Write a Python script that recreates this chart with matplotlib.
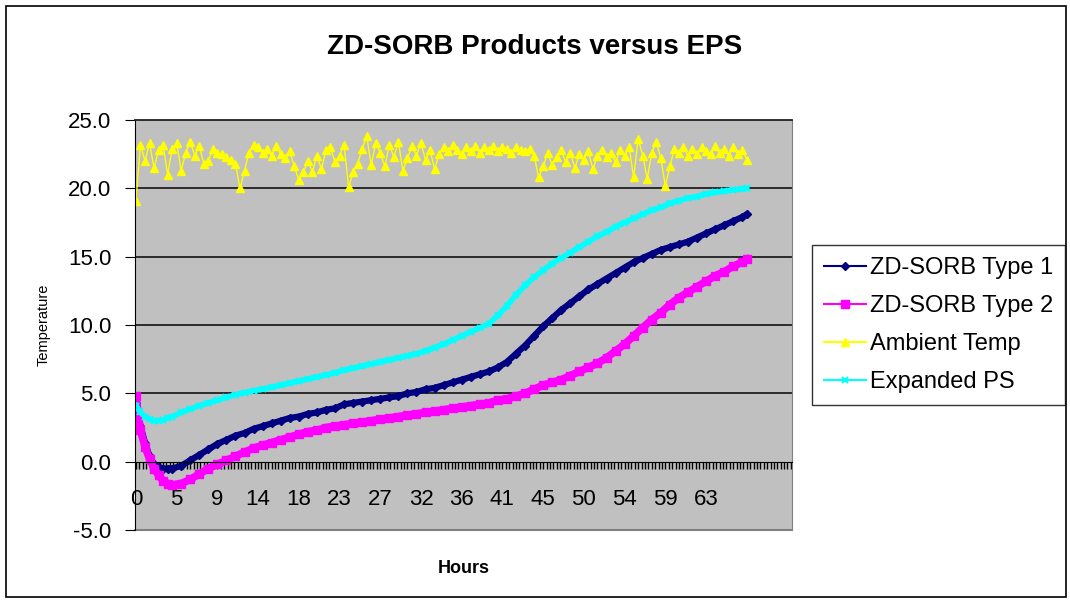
import numpy as np
import matplotlib
matplotlib.use("Agg")
import matplotlib.pyplot as plt
from matplotlib.patches import Rectangle

plt.rcParams["font.family"] = ["Liberation Sans", "DejaVu Sans"]

# ---- data ----
hours = [0, 0.5, 1, 1.5, 2, 2.5, 3, 3.5, 4, 5, 6, 7, 8, 9, 10, 11, 12, 13, 14, 15,
         16, 17, 18, 19, 20, 21, 22, 23, 24, 25, 26, 27, 28, 29, 30, 31, 32, 33, 34, 35,
         36, 37, 38, 39, 40, 41, 42, 43, 44, 45, 46, 47, 48, 49, 50, 51, 52, 53, 54, 55,
         56, 57, 58, 59, 60, 61, 62, 63, 64, 65, 66, 67, 67.5]

type1 = [4.3, 2.6, 1.4, 0.4, -0.2, -0.4, -0.5, -0.5, -0.5, -0.3, 0.1, 0.5, 0.9, 1.3, 1.6, 1.9, 2.1, 2.4, 2.6, 2.8,
         3.0, 3.2, 3.3, 3.5, 3.6, 3.8, 3.9, 4.2, 4.3, 4.4, 4.5, 4.6, 4.7, 4.8, 5.0, 5.1, 5.3, 5.4, 5.6, 5.8,
         6.0, 6.2, 6.4, 6.6, 6.9, 7.3, 7.9, 8.5, 9.2, 9.9, 10.5, 11.1, 11.6, 12.1, 12.6, 13.0, 13.4, 13.8, 14.2, 14.6,
         14.9, 15.2, 15.5, 15.7, 15.9, 16.1, 16.4, 16.7, 17.0, 17.3, 17.6, 17.9, 18.1]

type2 = [4.8, 2.3, 1.1, 0.2, -0.5, -1.0, -1.4, -1.6, -1.7, -1.6, -1.3, -0.9, -0.5, -0.2, 0.1, 0.4, 0.7, 1.0, 1.2, 1.4,
         1.6, 1.8, 2.0, 2.2, 2.3, 2.5, 2.6, 2.7, 2.8, 2.9, 3.0, 3.1, 3.2, 3.3, 3.4, 3.5, 3.6, 3.7, 3.8, 3.9,
         4.0, 4.1, 4.2, 4.3, 4.5, 4.6, 4.8, 5.0, 5.3, 5.6, 5.8, 6.0, 6.3, 6.6, 6.9, 7.2, 7.6, 8.1, 8.6, 9.2,
         9.8, 10.4, 10.9, 11.5, 12.0, 12.4, 12.8, 13.2, 13.6, 13.9, 14.3, 14.6, 14.8]

eps = [4.1, 3.6, 3.3, 3.1, 3.0, 3.0, 3.05, 3.2, 3.3, 3.6, 3.85, 4.1, 4.3, 4.5, 4.7, 4.9, 5.05, 5.2, 5.3, 5.45,
       5.6, 5.75, 5.9, 6.05, 6.2, 6.35, 6.5, 6.7, 6.85, 7.0, 7.15, 7.3, 7.45, 7.6, 7.75, 7.9, 8.1, 8.35, 8.6, 8.9,
       9.2, 9.5, 9.8, 10.1, 10.7, 11.4, 12.2, 12.9, 13.5, 14.0, 14.5, 14.9, 15.3, 15.7, 16.1, 16.5, 16.8, 17.2, 17.5, 17.8,
       18.1, 18.4, 18.6, 18.9, 19.1, 19.3, 19.4, 19.6, 19.7, 19.8, 19.9, 19.95, 20.0]

amb_hours = np.arange(0, 68, 0.5)
ambient = [19.1, 23.2, 22.0, 23.3, 21.5, 22.8, 23.2, 21.0, 22.9, 23.3, 21.3, 22.6, 23.4, 22.4, 23.1, 21.8,
           22.0, 22.9, 22.6, 22.5, 22.3, 22.1, 21.8, 20.0, 21.3, 22.6, 23.2, 23.0, 22.6, 22.9, 22.4, 23.1,
           22.5, 22.2, 22.7, 21.6, 20.6, 21.2, 22.0, 21.2, 22.4, 21.4, 22.8, 23.0, 21.9, 22.4, 23.2, 20.1,
           21.2, 21.8, 22.9, 23.8, 21.7, 23.3, 22.6, 21.6, 23.2, 22.3, 23.4, 21.3, 22.2, 23.1, 22.4, 23.3,
           22.1, 22.8, 21.4, 22.5, 23.0, 22.7, 23.2, 22.8, 22.5, 23.0, 22.7, 23.1, 22.6, 23.0, 22.8, 23.1,
           22.7, 23.0, 22.9, 22.6, 23.0, 22.8, 22.7, 22.9, 22.4, 20.8, 21.6, 22.6, 21.7, 22.3, 22.8, 21.9,
           22.6, 21.5, 22.5, 22.1, 22.7, 21.4, 22.4, 22.8, 22.3, 22.6, 21.9, 22.8, 22.4, 23.0, 20.8, 23.6,
           22.4, 20.7, 22.6, 23.4, 22.2, 20.2, 21.6, 22.9, 22.6, 23.0, 22.4, 22.9, 22.5, 23.0, 22.7, 22.5,
           23.1, 22.6, 22.9, 22.4, 23.0, 22.5, 22.8, 22.1]

xtick_labels = ["0", "5", "9", "14", "18", "23", "27", "32", "36", "41", "45", "50", "54", "59", "63"]
LABEL_STEP = 4.5
MINOR_STEP = 0.375

fig = plt.figure(figsize=(10.7, 6.01), dpi=100)
fig.patches.append(Rectangle((0.006, 0.006), 0.99, 0.984, transform=fig.transFigure,
                             fill=False, edgecolor="black", linewidth=1.2))

ax = fig.add_axes([0.1262, 0.1181, 0.614, 0.6822])
ax.set_facecolor("#C0C0C0")

ax.plot(hours, type1, color="#000080", lw=4.5, marker="D", ms=4.5, label="ZD-SORB Type 1")
ax.plot(hours, type2, color="#FF00FF", lw=5.5, marker="s", ms=5.5, label="ZD-SORB Type 2")
ax.plot(amb_hours, ambient, color="#FFFF00", lw=1.0, marker="^", ms=6, label="Ambient Temp")
ax.plot(hours, eps, color="#00FFFF", lw=4.0, marker="x", ms=5, mew=1.5, label="Expanded PS")

ax.set_ylim(-5, 25)
ax.set_xlim(-0.1, 72.5)
ax.set_yticks(np.arange(-5, 26, 5))
ax.set_yticklabels([f"{v:.1f}" for v in np.arange(-5, 26, 5)], fontsize=16)
for v in range(5, 25, 5):
    ax.axhline(v, color="#202020", lw=1.3, zorder=1)

ax.spines["bottom"].set_position(("data", 0))
ax.spines["bottom"].set_color("black")
ax.spines["left"].set_color("black")
ax.spines["top"].set_color("#202020")
ax.spines["top"].set_linewidth(1.3)
ax.spines["right"].set_color("#808080")
ax.axhline(-5, color="#808080", lw=1.5, zorder=1, clip_on=False)

label_pos = np.arange(len(xtick_labels)) * LABEL_STEP
ax.set_xticks(label_pos)
ax.set_xticklabels(xtick_labels, fontsize=16)
ax.set_xticks(np.arange(0, 72.5, MINOR_STEP), minor=True)
ax.tick_params(axis="x", which="major", length=5, pad=15, width=1)
ax.tick_params(axis="x", which="minor", length=5, width=1)
ax.tick_params(axis="y", length=7, pad=10)

ax.set_xlabel("Hours", fontsize=13, fontweight="bold")
ax.xaxis.set_label_coords(0.5, -0.072)
ax.set_ylabel("Temperature", fontsize=10.5)
ax.yaxis.set_label_coords(-0.128, 0.5)

fig.text(0.5, 0.922, "ZD-SORB Products versus EPS", ha="center", va="center",
         fontsize=20, fontweight="bold")

leg = fig.legend(loc="upper left", bbox_to_anchor=(0.759, 0.592), fontsize=17,
                 frameon=True, fancybox=False, edgecolor="black", handlelength=1.8,
                 handletextpad=0.15, borderpad=0.5, borderaxespad=0, labelspacing=0.68)
leg.get_frame().set_linewidth(1.0)
for h in leg.get_lines():
    h.set_linewidth(1.5)

fig.savefig("out.png", dpi=100)
